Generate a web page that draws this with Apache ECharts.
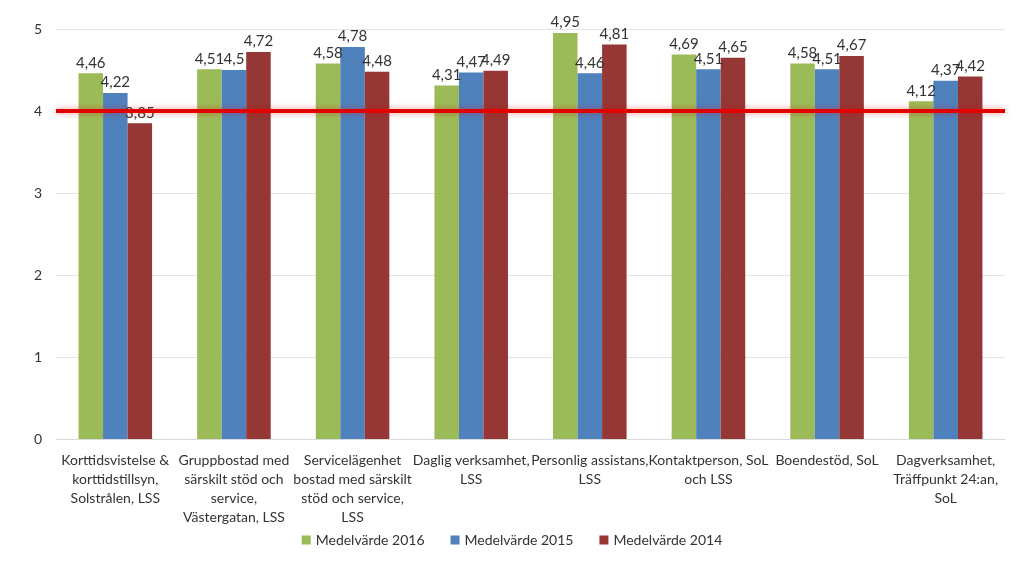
<!DOCTYPE html>
<html><head><meta charset="utf-8">
<script src="https://cdn.jsdelivr.net/npm/echarts@6/dist/echarts.min.js"></script>
<style>html,body{margin:0;padding:0;background:#fff}#c{width:1024px;height:576px}</style>
</head><body><div id="c"></div>
<script>
const categories = [
  "Korttidsvistelse &\nkorttidstillsyn,\nSolstrålen, LSS",
  "Gruppbostad med\nsärskilt stöd och\nservice,\nVästergatan, LSS",
  "Servicelägenhet\nbostad med särskilt\nstöd och service,\nLSS",
  "Daglig verksamhet,\nLSS",
  "Personlig assistans,\nLSS",
  "Kontaktperson, SoL\noch LSS",
  "Boendestöd, SoL",
  "Dagverksamhet,\nTräffpunkt 24:an,\nSoL"
];
const seriesNames = ["Medelvärde 2016", "Medelvärde 2015", "Medelvärde 2014"];
const values2016 = [4.46, 4.51, 4.58, 4.31, 4.95, 4.69, 4.58, 4.12];
const values2015 = [4.22, 4.5, 4.78, 4.47, 4.46, 4.51, 4.51, 4.37];
const values2014 = [3.85, 4.72, 4.48, 4.49, 4.81, 4.65, 4.67, 4.42];
const targetValue = 4;
const yTicks = [0, 1, 2, 3, 4, 5];

const colors = ["#9bbb59", "#4f81bd", "#953735"];
const font = "Lato, 'Open Sans', sans-serif";
const lbl = {
  show: true, position: 'top', distance: 3, color: '#333333', fontSize: 15, fontFamily: font,
  formatter: p => String(p.value).replace('.', ',')
};
function mk(i, data) {
  return {
    name: seriesNames[i], type: 'bar', data: data, barGap: '0%', barCategoryGap: '38%',
    itemStyle: { color: colors[i] }, label: lbl, z: 2
  };
}
const series = [mk(0, values2016), mk(1, values2015), mk(2, values2014)];
series.push({
  name: 'target', type: 'line', data: [], z: 10,
  markLine: {
    silent: true, symbol: ['none', 'none'], label: { show: false },
    lineStyle: { color: '#e00000', width: 4, type: 'solid', shadowColor: 'rgba(220,0,0,0.45)', shadowBlur: 6 },
    data: [{ yAxis: targetValue }]
  }
});
const chart = echarts.init(document.getElementById('c'));
chart.setOption({
  animation: false,
  backgroundColor: '#fff',
  grid: { left: 56, right: 19, top: 29, bottom: 137, containLabel: false },
  legend: {
    data: seriesNames, bottom: 24, left: 'center', itemWidth: 9, itemHeight: 9, itemGap: 26,
    icon: 'rect', textStyle: { fontSize: 14, fontFamily: font, color: '#333333' }
  },
  xAxis: {
    type: 'category', data: categories,
    axisLine: { lineStyle: { color: '#d9d9d9' } }, axisTick: { show: false },
    axisLabel: { interval: 0, fontSize: 14, fontFamily: font, color: '#333333', lineHeight: 19, margin: 12 }
  },
  yAxis: {
    type: 'value', min: yTicks[0], max: yTicks[yTicks.length - 1], interval: 1,
    axisLine: { show: false }, axisTick: { show: false },
    axisLabel: { fontSize: 14, fontFamily: font, color: '#333333', margin: 14 },
    splitLine: { lineStyle: { color: '#e3e3e3' } }
  },
  series: series
});
</script></body></html>
